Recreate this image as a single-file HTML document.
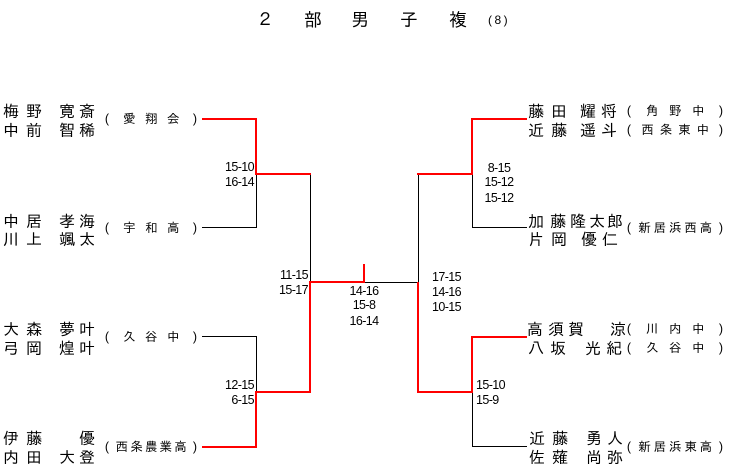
<!DOCTYPE html>
<html><head><meta charset="utf-8">
<style>
html,body{margin:0;padding:0;background:#fff;}
body{width:729px;height:466px;position:relative;overflow:hidden;font-family:"Liberation Sans","IPAGothic","Noto Sans CJK JP",sans-serif;color:#000;}
.n{position:absolute;font-size:16px;line-height:16px;width:16px;text-align:center;font-family:"IPAGothic","Noto Sans CJK JP",sans-serif;}
.t{position:absolute;font-size:18px;line-height:18px;width:18px;text-align:center;font-family:"IPAGothic","Noto Sans CJK JP",sans-serif;}
.s{position:absolute;display:flex;justify-content:space-between;font-size:12.5px;line-height:12px;height:12px;font-family:"Liberation Sans","IPAGothic","Noto Sans CJK JP",sans-serif;}
.s span{display:block;width:12px;text-align:center;}
.sl{left:101px;width:100px;}
.sr{left:623px;width:104px;}
.sc{position:absolute;font-size:12.5px;line-height:14px;letter-spacing:-0.6px;font-family:"Liberation Sans",sans-serif;white-space:nowrap;}
.r{text-align:right;width:60px;}
.c{text-align:center;width:60px;}
svg{position:absolute;left:0;top:0;}
</style></head><body>
<svg width="729" height="466" shape-rendering="crispEdges">
<g fill="#000">
<rect x="202" y="227" width="55" height="1"/>
<rect x="256" y="174" width="1" height="54"/>
<rect x="310" y="174" width="1" height="108"/>
<rect x="202" y="336" width="55" height="1"/>
<rect x="256" y="336" width="1" height="56"/>
<rect x="364" y="282" width="54" height="1"/>
<rect x="418" y="174" width="1" height="108"/>
<rect x="472" y="174" width="1" height="54"/>
<rect x="472" y="227" width="55" height="1"/>
<rect x="472" y="392" width="1" height="55"/>
<rect x="472" y="446" width="55" height="1"/>
</g>
<g fill="#ff0000">
<rect x="202" y="118" width="55" height="2"/>
<rect x="255" y="118" width="2" height="57"/>
<rect x="255" y="173" width="56" height="2"/>
<rect x="309" y="281" width="2" height="112"/>
<rect x="255" y="391" width="56" height="2"/>
<rect x="255" y="391" width="2" height="57"/>
<rect x="202" y="446" width="55" height="2"/>
<rect x="309" y="281" width="56" height="2"/>
<rect x="363" y="264" width="2" height="19"/>
<rect x="471" y="118" width="56" height="2"/>
<rect x="471" y="118" width="2" height="57"/>
<rect x="417" y="173" width="56" height="2"/>
<rect x="417" y="282" width="2" height="111"/>
<rect x="417" y="391" width="56" height="2"/>
<rect x="471" y="336" width="2" height="57"/>
<rect x="471" y="336" width="56" height="2"/>
</g>
</svg>

<!-- Title -->
<div class="t" style="left:256px;top:11px;">２</div>
<div class="t" style="left:304px;top:11px;">部</div>
<div class="t" style="left:351px;top:11px;">男</div>
<div class="t" style="left:400px;top:11px;">子</div>
<div class="t" style="left:449px;top:11px;">複</div>
<div style="position:absolute;left:488px;top:13px;font-size:12px;line-height:14px;letter-spacing:2.5px;">(8)</div>

<!-- Left team 1 -->
<div class="n" style="left:3px;top:102.5px;">梅</div><div class="n" style="left:26px;top:102.5px;">野</div><div class="n" style="left:59px;top:102.5px;">寛</div><div class="n" style="left:79px;top:102.5px;">斎</div>
<div class="n" style="left:3px;top:121.5px;">中</div><div class="n" style="left:26px;top:121.5px;">前</div><div class="n" style="left:59px;top:121.5px;">智</div><div class="n" style="left:79px;top:121.5px;">稀</div>
<div class="s sl" style="top:113px;"><span>(</span><span>愛</span><span>翔</span><span>会</span><span>)</span></div>

<!-- Left team 2 -->
<div class="n" style="left:3px;top:212.5px;">中</div><div class="n" style="left:26px;top:212.5px;">居</div><div class="n" style="left:59px;top:212.5px;">孝</div><div class="n" style="left:79px;top:212.5px;">海</div>
<div class="n" style="left:3px;top:231px;">川</div><div class="n" style="left:26px;top:231px;">上</div><div class="n" style="left:59px;top:231px;">颯</div><div class="n" style="left:79px;top:231px;">太</div>
<div class="s sl" style="top:221.5px;"><span>(</span><span>宇</span><span>和</span><span>高</span><span>)</span></div>

<!-- Left team 3 -->
<div class="n" style="left:3px;top:321px;">大</div><div class="n" style="left:26px;top:321px;">森</div><div class="n" style="left:59px;top:321px;">夢</div><div class="n" style="left:79px;top:321px;">叶</div>
<div class="n" style="left:3px;top:339.5px;">弓</div><div class="n" style="left:26px;top:339.5px;">岡</div><div class="n" style="left:59px;top:339.5px;">煌</div><div class="n" style="left:79px;top:339.5px;">叶</div>
<div class="s sl" style="top:330.5px;"><span>(</span><span>久</span><span>谷</span><span>中</span><span>)</span></div>

<!-- Left team 4 -->
<div class="n" style="left:3px;top:429.5px;">伊</div><div class="n" style="left:26px;top:429.5px;">藤</div><div class="n" style="left:79px;top:429.5px;">優</div>
<div class="n" style="left:3px;top:448.5px;">内</div><div class="n" style="left:26px;top:448.5px;">田</div><div class="n" style="left:59px;top:448.5px;">大</div><div class="n" style="left:79px;top:448.5px;">登</div>
<div class="s sl" style="top:441px;"><span>(</span><span>西</span><span>条</span><span>農</span><span>業</span><span>高</span><span>)</span></div>

<!-- Right team 1 -->
<div class="n" style="left:528px;top:102.5px;">藤</div><div class="n" style="left:551px;top:102.5px;">田</div><div class="n" style="left:580px;top:102.5px;">耀</div><div class="n" style="left:601px;top:102.5px;">将</div>
<div class="n" style="left:528px;top:121.5px;">近</div><div class="n" style="left:551px;top:121.5px;">藤</div><div class="n" style="left:580px;top:121.5px;">遥</div><div class="n" style="left:601px;top:121.5px;">斗</div>
<div class="s sr" style="top:104.5px;"><span>(</span><span>角</span><span>野</span><span>中</span><span>)</span></div>
<div class="s sr" style="top:123.5px;"><span>(</span><span>西</span><span>条</span><span>東</span><span>中</span><span>)</span></div>

<!-- Right team 2 -->
<div class="n" style="left:528px;top:213px;">加</div><div class="n" style="left:550px;top:213px;">藤</div><div class="n" style="left:570px;top:213px;">隆</div><div class="n" style="left:589px;top:213px;">太</div><div class="n" style="left:607px;top:213px;">郎</div>
<div class="n" style="left:528px;top:231px;">片</div><div class="n" style="left:551px;top:231px;">岡</div><div class="n" style="left:581px;top:231px;">優</div><div class="n" style="left:602px;top:231px;">仁</div>
<div class="s sr" style="top:221.5px;"><span>(</span><span>新</span><span>居</span><span>浜</span><span>西</span><span>高</span><span>)</span></div>

<!-- Right team 3 -->
<div class="n" style="left:527px;top:320.5px;">高</div><div class="n" style="left:548px;top:320.5px;">須</div><div class="n" style="left:568px;top:320.5px;">賀</div><div class="n" style="left:610px;top:320.5px;">涼</div>
<div class="n" style="left:528px;top:339.5px;">八</div><div class="n" style="left:550px;top:339.5px;">坂</div><div class="n" style="left:585px;top:339.5px;">光</div><div class="n" style="left:606px;top:339.5px;">紀</div>
<div class="s sr" style="top:322.5px;"><span>(</span><span>川</span><span>内</span><span>中</span><span>)</span></div>
<div class="s sr" style="top:341.5px;"><span>(</span><span>久</span><span>谷</span><span>中</span><span>)</span></div>

<!-- Right team 4 -->
<div class="n" style="left:529px;top:430px;">近</div><div class="n" style="left:552px;top:430px;">藤</div><div class="n" style="left:586px;top:430px;">勇</div><div class="n" style="left:607px;top:430px;">人</div>
<div class="n" style="left:529px;top:449px;">佐</div><div class="n" style="left:552px;top:449px;">薙</div><div class="n" style="left:586px;top:449px;">尚</div><div class="n" style="left:607px;top:449px;">弥</div>
<div class="s sr" style="top:440.5px;"><span>(</span><span>新</span><span>居</span><span>浜</span><span>東</span><span>高</span><span>)</span></div>

<!-- Scores -->
<div class="sc r" style="left:194px;top:160px;">15-10</div>
<div class="sc r" style="left:194px;top:175px;">16-14</div>
<div class="sc r" style="left:194px;top:378px;">12-15</div>
<div class="sc r" style="left:194px;top:393px;">6-15</div>
<div class="sc r" style="left:248px;top:268px;">11-15</div>
<div class="sc r" style="left:248px;top:283px;">15-17</div>
<div class="sc c" style="left:334px;top:284px;">14-16</div>
<div class="sc c" style="left:334px;top:298px;">15-8</div>
<div class="sc c" style="left:334px;top:314px;">16-14</div>
<div class="sc" style="left:432px;top:270px;">17-15</div>
<div class="sc" style="left:432px;top:285px;">14-16</div>
<div class="sc" style="left:432px;top:300px;">10-15</div>
<div class="sc c" style="left:469px;top:161px;">8-15</div>
<div class="sc c" style="left:469px;top:175px;">15-12</div>
<div class="sc c" style="left:469px;top:191px;">15-12</div>
<div class="sc" style="left:476px;top:378px;">15-10</div>
<div class="sc" style="left:476px;top:393px;">15-9</div>
</body></html>
